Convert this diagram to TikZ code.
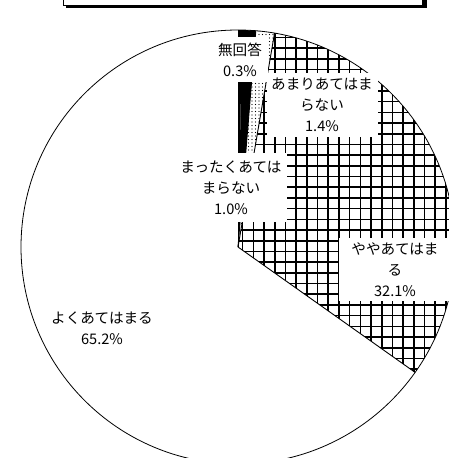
\documentclass[tikz,border=0pt]{standalone}
\usepackage{fontspec}
\setmainfont{Noto Sans CJK JP}
\usetikzlibrary{patterns.meta}

\tikzset{
  slice/.style={draw=black, line width=0.9pt},
  lbl/.style={fill=white, inner sep=0pt, align=center, font=\fontsize{14.6}{21}\selectfont},
}

\begin{document}
\begin{tikzpicture}[x=1pt, y=1pt]
    \useasboundingbox (0,0) rectangle (449,458);
    \clip (0,0) rectangle (449,458);

    % title box, cut off at the top edge
    \fill[black] (66,450) rectangle (427,470);
    \draw[fill=white, line width=0.8pt] (63,453) rectangle (422,470);

    % the pie
    \coordinate (c) at (238,211);
    \def\rad{217}

    % yoku (white)
    \fill[white] (c) -- ++(90:\rad) arc[start angle=90, end angle=324.7, radius=\rad] -- cycle;
    % yaya (grid)
    \begin{scope}
        \clip (c) -- ++(-35.3:\rad) arc[start angle=-35.3, end angle=80.3, radius=\rad] -- cycle;
        \begin{scope}[shift={(7.2,3.2)}]
            \draw[step=10.7, line width=1.6pt] (-21.4,-21.4) grid (470,470);
        \end{scope}
    \end{scope}
    % amari (dots)
    \fill[pattern={Dots[distance=3.5pt, radius=0.55pt]}] (c) -- ++(80.3:\rad) arc[start angle=80.3, end angle=85.3, radius=\rad] -- cycle;
    % mattaku (black)
    \fill[black] (c) -- ++(85.3:\rad) arc[start angle=85.3, end angle=88.9, radius=\rad] -- cycle;
    % muka (black)
    \fill[black] (c) -- ++(88.9:\rad) arc[start angle=88.9, end angle=90, radius=\rad] -- cycle;

    % outlines
    \draw[line width=0.8pt] (c) circle[radius=\rad];
    \draw[slice] (c) -- ++(90:\rad);
    \draw[slice] (c) -- ++(-35.3:\rad);
    \draw[slice] (c) -- ++(80.3:\rad);
    \draw[slice] (c) -- ++(85.3:\rad);

    % labels
    \node (muka) [lbl, minimum width=56, minimum height=45] at (240,398) {無回答\\0.3\%};
    \node (amari) [lbl, minimum width=111, minimum height=64] at (322,353) {あまりあてはま\\らない\\1.4\%};
    \node (mattaku) [lbl, minimum width=112, minimum height=69] at (231,270) {まったくあては\\まらない\\1.0\%};
    \node (yaya) [lbl, minimum width=112, minimum height=63] at (395,188) {ややあてはま\\る\\32.1\%};
    \node (yoku) [lbl] at (102,130) {よくあてはまる\\65.2\%};
\end{tikzpicture}
\end{document}
